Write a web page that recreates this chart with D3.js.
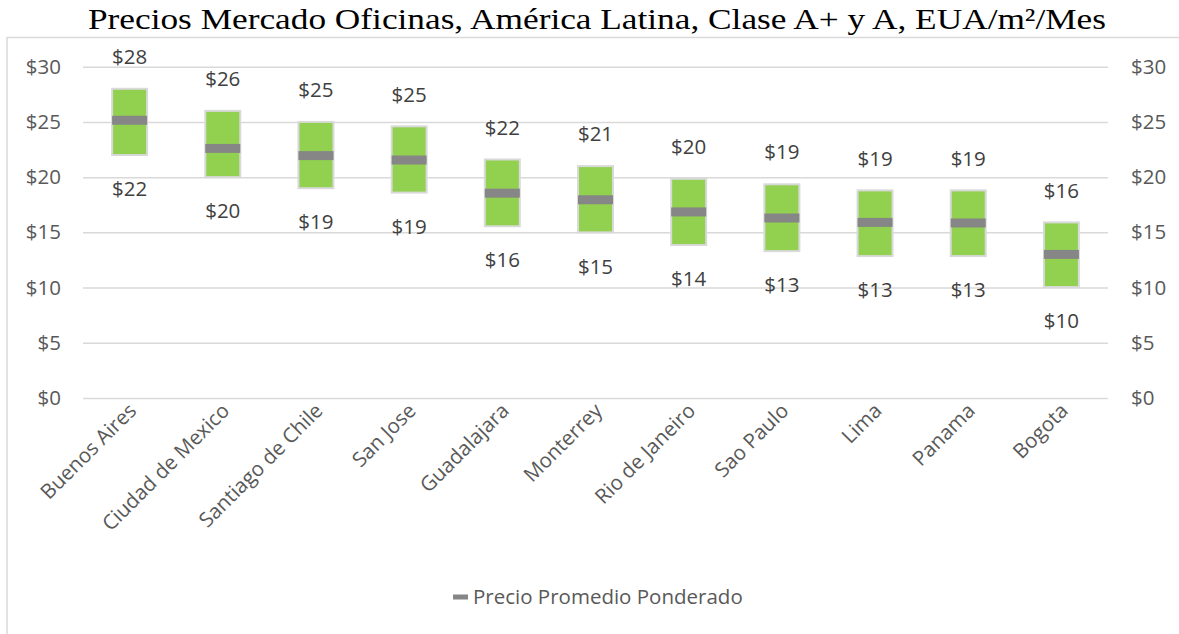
<!DOCTYPE html>
<html>
<head>
<meta charset="utf-8">
<script src="https://cdn.jsdelivr.net/npm/d3@7"></script>
<style>
  body { margin: 0; background: #fff; }
  svg { display: block; }
  .tick text { font-family: "Open Sans", sans-serif; }
</style>
</head>
<body>
<svg id="chart" width="1179" height="634"></svg>
<script>
var cities = ['Buenos Aires', 'Ciudad de Mexico', 'Santiago de Chile', 'San Jose', 'Guadalajara',
  'Monterrey', 'Rio de Janeiro', 'Sao Paulo', 'Lima', 'Panama', 'Bogota'];
var highs = [28, 26, 25, 24.6, 21.6, 21, 19.85, 19.35, 18.8, 18.8, 15.9];
var lows = [22, 20, 19, 18.6, 15.55, 15, 13.85, 13.3, 12.85, 12.85, 10.05];
var avgs = [25.15, 22.6, 21.95, 21.55, 18.55, 17.95, 16.85, 16.3, 15.9, 15.85, 13.0];
var yTicks = [0, 5, 10, 15, 20, 25, 30];
var titleText = 'Precios Mercado Oficinas, América Latina, Clase A+ y A, EUA/m²/Mes';
var legendText = 'Precio Promedio Ponderado';

var svg = d3.select('#chart');
var plotLeft = 83, plotRight = 1108, plotTop = 66.7, plotBottom = 398;

var x = d3.scaleBand().domain(cities).range([plotLeft, plotRight]).padding(0);
var y = d3.scaleLinear().domain([0, 30]).range([plotBottom, plotTop]);
var money = function (d) { return '$' + d; };

// chart frame (runs off the right and bottom of the picture)
svg.append('rect')
  .attr('x', 7).attr('y', 37.5)
  .attr('width', 1200).attr('height', 640)
  .attr('fill', 'none').attr('stroke', '#d9d9d9').attr('stroke-width', 1.5);

// title, widened to the width it has in the reference
svg.append('text')
  .attr('x', 88).attr('y', 28.5)
  .attr('textLength', 1018)
  .attr('lengthAdjust', 'spacingAndGlyphs')
  .style('font-family', '"Palatino Linotype", "Book Antiqua", Palatino, "Liberation Serif", serif')
  .style('font-size', '29.5px')
  .attr('fill', '#000')
  .text(titleText);

// gridlines
svg.append('g')
  .attr('transform', 'translate(' + plotLeft + ',0)')
  .call(d3.axisRight(y).tickValues(yTicks).tickSize(plotRight - plotLeft).tickFormat(''))
  .call(function (g) { g.select('.domain').remove(); })
  .selectAll('line').attr('stroke', '#d9d9d9').attr('stroke-width', 1.5);

// left and right value axes
function valueAxis(axis, xpos) {
  svg.append('g')
    .attr('transform', 'translate(' + xpos + ',0)')
    .call(axis.tickValues(yTicks).tickSize(0).tickPadding(0).tickFormat(money))
    .call(function (g) { g.select('.domain').remove(); })
    .selectAll('text')
    .style('font-size', '20.5px')
    .attr('fill', '#595959');
}
valueAxis(d3.axisLeft(y), 61);
valueAxis(d3.axisRight(y), 1131);

// category axis
svg.append('g')
  .attr('transform', 'translate(0,' + plotBottom + ')')
  .call(d3.axisBottom(x).tickSize(0).tickFormat(function (d) { return d; }))
  .call(function (g) { g.select('.domain').remove(); })
  .selectAll('text')
  .style('font-size', '20.5px')
  .attr('fill', '#595959')
  .attr('text-anchor', 'end')
  .attr('y', 0)
  .attr('dy', 0)
  .attr('transform', 'translate(8,14) rotate(-45)');

var data = cities.map(function (c, i) {
  return { city: c, high: highs[i], low: lows[i], avg: avgs[i] };
});
var boxW = 35;

// range boxes
svg.append('g').selectAll('rect')
  .data(data).join('rect')
  .attr('x', function (d) { return x(d.city) + x.bandwidth() / 2 - boxW / 2; })
  .attr('y', function (d) { return y(d.high); })
  .attr('width', boxW)
  .attr('height', function (d) { return y(d.low) - y(d.high); })
  .attr('fill', '#92d050')
  .attr('stroke', '#d9d9d9')
  .attr('stroke-width', 2);

// weighted average markers
svg.append('g').selectAll('rect')
  .data(data).join('rect')
  .attr('x', function (d) { return x(d.city) + x.bandwidth() / 2 - boxW / 2; })
  .attr('y', function (d) { return y(d.avg) - 4.5; })
  .attr('width', boxW)
  .attr('height', 9)
  .attr('fill', '#868686');

// high / low labels
var labels = svg.append('g')
  .style('font-family', '"Open Sans", sans-serif')
  .style('font-size', '20.5px')
  .attr('fill', '#404040')
  .attr('text-anchor', 'middle');
labels.selectAll('.hi')
  .data(data).join('text')
  .attr('class', 'hi')
  .attr('x', function (d) { return x(d.city) + x.bandwidth() / 2; })
  .attr('y', function (d) { return y(d.high) - 32; })
  .attr('dy', '0.35em')
  .text(function (d) { return money(Math.round(d.high)); });
labels.selectAll('.lo')
  .data(data).join('text')
  .attr('class', 'lo')
  .attr('x', function (d) { return x(d.city) + x.bandwidth() / 2; })
  .attr('y', function (d) { return y(d.low) + 34; })
  .attr('dy', '0.35em')
  .text(function (d) { return money(Math.round(d.low)); });

// legend
var legend = svg.append('g').attr('transform', 'translate(453,597)');
legend.append('rect')
  .attr('x', 0).attr('y', -2.5)
  .attr('width', 15).attr('height', 5)
  .attr('fill', '#868686');
legend.append('text')
  .attr('x', 20).attr('y', 0).attr('dy', '0.35em')
  .style('font-family', '"Open Sans", sans-serif')
  .style('font-size', '20.5px')
  .attr('fill', '#595959')
  .text(legendText);
</script>
</body>
</html>
